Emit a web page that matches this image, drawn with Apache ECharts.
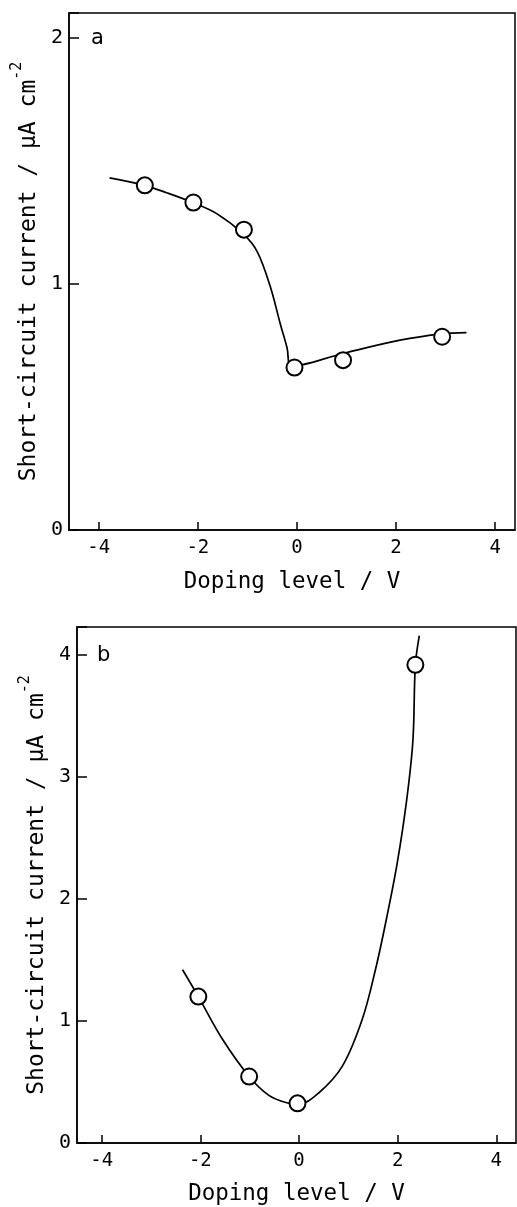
<!DOCTYPE html>
<html>
<head>
<meta charset="utf-8">
<script src="https://cdn.jsdelivr.net/npm/echarts@6/dist/echarts.min.js"></script>
<style>
html,body{margin:0;padding:0;background:#fff;}
#chart{width:517px;height:1207px;}
</style>
</head>
<body>
<div id="chart"></div>
<script>
// Panel a: measured points
var pointsAX = [-3.07, -2.09, -1.07, -0.05, 0.93, 2.93];
var pointsAY = [1.40, 1.33, 1.22, 0.66, 0.69, 0.785];
// Panel a: fitted curve as drawn
var curveAX = [-3.78, -3.08, -2.63, -2.10, -1.62, -1.07, -0.80, -0.54, -0.34, -0.20, -0.11, 0.93, 2.08, 2.92, 3.42];
var curveAY = [1.43, 1.40, 1.37, 1.33, 1.285, 1.20, 1.13, 0.99, 0.84, 0.74, 0.665, 0.717, 0.771, 0.797, 0.802];
// Panel b: measured points
var pointsBX = [-2.04, -1.01, -0.03, 2.36];
var pointsBY = [1.20, 0.545, 0.325, 3.92];
// Panel b: fitted curve as drawn
var curveBX = [-2.36, -2.04, -1.55, -1.01, -0.61, -0.25, 0.0, 0.40, 0.88, 1.28, 1.55, 1.77, 1.99, 2.18, 2.31, 2.36, 2.44];
var curveBY = [1.42, 1.20, 0.85, 0.545, 0.39, 0.33, 0.32, 0.41, 0.63, 1.01, 1.42, 1.83, 2.29, 2.80, 3.30, 3.92, 4.16];
// Axis ranges and labels
var xRangeA = [-4.6, 4.4];
var xRangeB = [-4.5, 4.4];
var yMaxA = 2.1;
var yMaxB = 4.23;
var panelLabels = ['a', 'b'];
var xTitle = 'Doping level / V';
var yTitleMain = 'Short-circuit current / µA cm';
var yTitleSup = '-2';

function pairs(xs, ys) { return xs.map(function (x, i) { return [x, ys[i]]; }); }
function intOnly(v) { return Math.abs(v - Math.round(v)) < 1e-9 ? String(Math.round(v)) : ''; }

var mono = 'DejaVu Sans Mono';
var sans = 'DejaVu Sans';

function xAxisCfg(gi, range, gap) {
  return {
    type: 'value', gridIndex: gi, min: range[0], max: range[1], splitNumber: 5,
    name: xTitle, nameLocation: 'middle', nameGap: gap,
    nameTextStyle: { fontFamily: mono, fontSize: 22.5, color: '#000' },
    axisLine: { show: true, onZero: false, lineStyle: { color: '#000', width: 1.5 } },
    axisTick: { show: true, inside: true, length: 8, lineStyle: { color: '#000', width: 1.5 } },
    axisLabel: { margin: 9, fontFamily: mono, fontSize: 19, color: '#000', formatter: intOnly, showMinLabel: false, showMaxLabel: false },
    splitLine: { show: false }
  };
}
function yAxisCfg(gi, max, gap) {
  return {
    type: 'value', gridIndex: gi, min: 0, max: max, interval: 1,
    name: '{n|' + yTitleMain + '}{s|' + yTitleSup + '}',
    nameLocation: 'middle', nameGap: gap,
    nameTextStyle: {
      color: '#000',
      rich: {
        n: { fontFamily: mono, fontSize: 23, color: '#000', lineHeight: 30, verticalAlign: 'bottom' },
        s: { fontFamily: mono, fontSize: 15, color: '#000', lineHeight: 30, verticalAlign: 'top' }
      }
    },
    axisLine: { show: true, onZero: false, lineStyle: { color: '#000', width: 1.5 } },
    axisTick: { show: true, inside: true, length: 10, lineStyle: { color: '#000', width: 1.5 } },
    axisLabel: { margin: 6, fontFamily: mono, fontSize: 20, color: '#000', formatter: intOnly },
    splitLine: { show: false }
  };
}

var lineStyle = { color: '#000', width: 1.7 };
var markerStyle = { color: '#fff', borderColor: '#000', borderWidth: 2, opacity: 1 };

var option = {
  animation: false,
  backgroundColor: '#fff',
  title: [
    { text: panelLabels[0], left: 91, top: 28, padding: 0, textStyle: { fontFamily: sans, fontSize: 21, fontWeight: 'normal', color: '#000' } },
    { text: panelLabels[1], left: 97, top: 645, padding: 0, textStyle: { fontFamily: sans, fontSize: 21, fontWeight: 'normal', color: '#000' } }
  ],
  grid: [
    { left: 69, top: 13, width: 446, height: 517, show: true, borderColor: '#000', borderWidth: 1.5, backgroundColor: 'transparent' },
    { left: 77, top: 627, width: 439, height: 517, show: true, borderColor: '#000', borderWidth: 1.5, backgroundColor: 'transparent' }
  ],
  xAxis: [xAxisCfg(0, xRangeA, 41), xAxisCfg(1, xRangeB, 40)],
  yAxis: [yAxisCfg(0, yMaxA, 23), yAxisCfg(1, yMaxB, 25)],
  series: [
    { type: 'line', xAxisIndex: 0, yAxisIndex: 0, data: pairs(curveAX, curveAY), smooth: 0.35, showSymbol: false, lineStyle: lineStyle, z: 2 },
    { type: 'scatter', xAxisIndex: 0, yAxisIndex: 0, data: pairs(pointsAX, pointsAY), symbol: 'circle', symbolSize: 16, itemStyle: markerStyle, z: 3 },
    { type: 'line', xAxisIndex: 1, yAxisIndex: 1, data: pairs(curveBX, curveBY), smooth: 0.35, showSymbol: false, lineStyle: lineStyle, z: 2 },
    { type: 'scatter', xAxisIndex: 1, yAxisIndex: 1, data: pairs(pointsBX, pointsBY), symbol: 'circle', symbolSize: 16, itemStyle: markerStyle, z: 3 }
  ]
};
var chart = echarts.init(document.getElementById('chart'), null, { renderer: 'canvas' });
chart.setOption(option);
</script>
</body>
</html>
